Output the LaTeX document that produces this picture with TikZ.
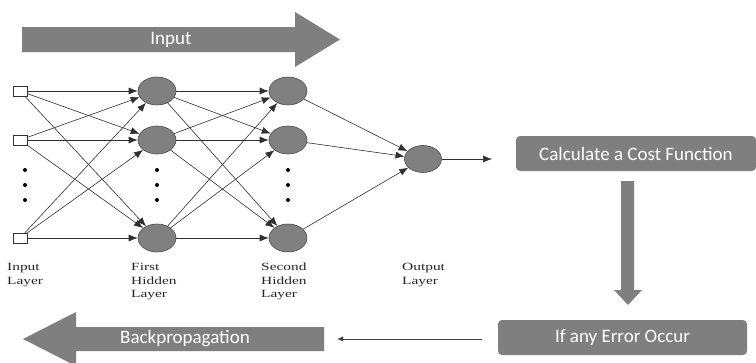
\documentclass[tikz,border=0pt]{standalone}
\usepackage{fontspec}
\usepackage{graphicx}
\usetikzlibrary{arrows.meta,shapes.geometric}
\newfontfamily\boxfont{Carlito}
\newfontfamily\labfont{Liberation Serif}
\newcommand{\widelab}[1]{\scalebox{1.4}[1]{\begin{tabular}{@{}l@{}}#1\end{tabular}}}
\definecolor{fatgray}{HTML}{7F7F7F}
\definecolor{nodegray}{HTML}{808080}
\definecolor{edgegray}{HTML}{303030}
\tikzset{
  fat/.style={fill=fatgray, draw=none},
  fattext/.style={text=white, font=\boxfont\fontsize{19}{22}\selectfont, inner sep=0pt},
  box/.style={fill=fatgray, draw=none, rounded corners=4pt, text=white,
    font=\boxfont\fontsize{19}{22}\selectfont, inner sep=0pt},
  neuron/.style={ellipse, fill=nodegray, draw=black!70, line width=0.6pt,
    minimum width=38pt, minimum height=28pt, inner sep=0pt},
  inbox/.style={rectangle, fill=white, draw=black!80, line width=0.6pt,
    minimum width=14pt, minimum height=10pt, inner sep=0pt},
  conn/.style={draw=edgegray, line width=0.6pt, -{Latex[length=9pt,width=7pt]}},
  thin/.style={draw=black!75, line width=0.9pt, -{Latex[length=6pt,width=5pt]}},
  lab/.style={font=\labfont\fontsize{11}{13.5}\selectfont, text=black!85,
    anchor=north west, inner sep=0pt},
  dot/.style={circle, fill=black, inner sep=0pt, minimum size=4pt}
}
\begin{document}
\begin{tikzpicture}[x=1pt,y=-1pt]
\clip (0,0) rectangle (756,362);
\fill[white] (0,0) rectangle (756,362);
% Input fat arrow
\fill[fat] (22,27) -- (295,27) -- (295,12) -- (340,39.5) -- (295,67) -- (295,52) -- (22,52) -- cycle;
\node[fattext] (inputlbl) at (171,40) {Input};
% Backpropagation fat arrow
\fill[fat] (324,327) -- (76,327) -- (76,312) -- (23,339) -- (76,366) -- (76,351) -- (324,351) -- cycle;
\node[fattext] (bplbl) at (185,339) {Backpropagation};
\coordinate (bp) at (324,339);
% input squares
\node[inbox] (i1) at (20,91) {};
\node[inbox] (i2) at (20,140) {};
\node[inbox] (i4) at (20,238) {};
% first hidden
\node[neuron] (a1) at (157,91) {};
\node[neuron] (a2) at (157,140) {};
\node[neuron] (a4) at (157,238) {};
% second hidden
\node[neuron] (b1) at (288,91) {};
\node[neuron] (b2) at (288,140) {};
\node[neuron] (b4) at (288,238) {};
% output
\node[neuron, minimum width=37pt, minimum height=27pt] (o) at (423,159) {};
\coordinate (oend) at (492,159);
% dots
\foreach \x/\n in {25/p,157/q,288/r}{
  \node[dot] (\n1) at (\x,170) {};
  \node[dot] (\n2) at (\x,185) {};
  \node[dot] (\n3) at (\x,200) {};
}
% connections
\foreach \s in {i1,i2,i4}{
  \foreach \t in {a1,a2,a4}{
    \draw[conn] (\s) -- (\t);
  }
}
\foreach \s in {a1,a2,a4}{
  \foreach \t in {b1,b2,b4}{
    \draw[conn] (\s) -- (\t);
  }
}
\foreach \s in {b1,b2,b4}{
  \draw[conn] (\s) -- (o);
}
\draw[conn] (o) -- (oend);
% labels
\node[lab] (l1) at (7,261) {\widelab{Input\\Layer}};
\node[lab] (l2) at (131,261) {\widelab{First\\Hidden\\Layer}};
\node[lab] (l3) at (261,261) {\widelab{Second\\Hidden\\Layer}};
\node[lab] (l4) at (402,261) {\widelab{Output\\Layer}};
% boxes
\node[box, minimum width=240pt, minimum height=35pt] (cost) at (636,153.5) {Calculate a Cost Function};
\node[box, minimum width=249pt, minimum height=35pt] (err) at (622.5,337.5) {If any Error Occur};
% down fat arrow
\fill[fat] (621,181) -- (634,181) -- (634,290) -- (642,290) -- (628,305) -- (614,290) -- (621,290) -- cycle;
% thin arrow
\draw[thin, shorten <=16pt, shorten >=13pt] (err.west |- bp) -- (bp);
\end{tikzpicture}
\end{document}
